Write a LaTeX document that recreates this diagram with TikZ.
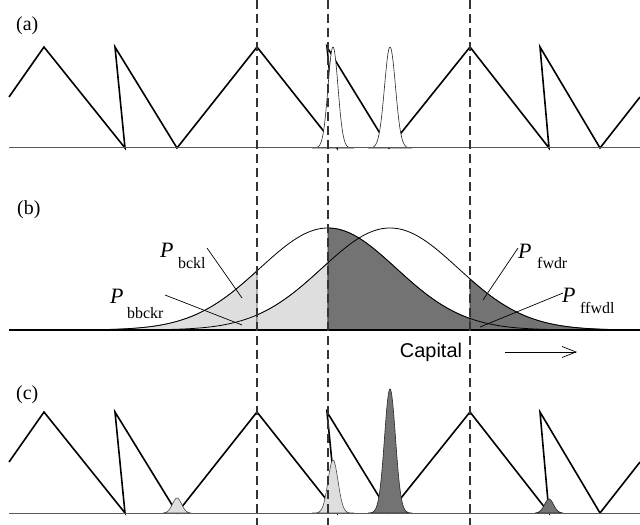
\documentclass[tikz,border=0pt]{standalone}
\usepackage{fontspec}
\setmainfont{Liberation Serif}
\newfontfamily\capfont{Liberation Sans}
\usetikzlibrary{arrows.meta}
\begin{document}
\begin{tikzpicture}[x=1bp,y=-1bp,
  tri/.style={line width=1.6bp, line join=miter, black},
  thinaxis/.style={line width=1bp, black!65},
  thickaxis/.style={line width=1.6bp, black},
  curve/.style={line width=0.8bp, black},
  dashline/.style={line width=1.5bp, black!80, dash pattern=on 9bp off 5bp},
  lightfill/.style={fill=black!13, draw=black!70, line width=0.6bp},
  darkfill/.style={fill=black!55, draw=black!85, line width=0.6bp},
  whitepeak/.style={fill=white, draw=black!85, line width=0.6bp},
  ptr/.style={line width=0.7bp, black},
  lab/.style={inner sep=0pt, anchor=base west, font=\fontsize{20}{20}\selectfont},
  pbig/.style={inner sep=0pt, anchor=base west, font=\fontsize{22}{22}\selectfont\itshape},
  psub/.style={inner sep=0pt, anchor=base west, font=\fontsize{16}{16}\selectfont},
  saw/.pic={\draw[tri] (9,97) -- (44,47) -- (125,148) -- (115,47) -- (177,148) -- (257,47) -- (337,148) -- (327,47) -- (389,148) -- (470,47) -- (549,148) -- (540,47) -- (600,148) -- (640,97);}
]
\useasboundingbox (0,0) rectangle (640,525);
\fill[white] (0,0) rectangle (640,525);

% ---------- panel (a)
\pic at (0,0) {saw};
\path[whitepeak] plot[domain=312:354, samples=80] (\x,{148-101*exp(-0.5*((\x-333)/5)^2)}) -- cycle;
\path[whitepeak] plot[domain=368:412, samples=80] (\x,{148-101*exp(-0.5*((\x-390)/5.5)^2)}) -- cycle;
\draw[thinaxis] (9,148) -- (640,148);
\node[lab] (la) at (16,31) {(a)};

% ---------- panel (b)
\path[lightfill] (83,330) -- plot[domain=83:257, samples=80] (\x,{330-102*exp(-0.5*((\x-328)/68)^2)}) -- (257,330) -- cycle;
\path[lightfill] (257,330) -- plot[domain=257:328, samples=50] (\x,{330-102*exp(-0.5*((\x-390)/68)^2)}) -- (328,330) -- cycle;
\path[darkfill] (328,330) -- plot[domain=328:470, samples=80] (\x,{330-102*exp(-0.5*((\x-328)/68)^2)}) -- (470,330) -- cycle;
\path[darkfill] (470,330) -- plot[domain=470:635, samples=80] (\x,{330-102*exp(-0.5*((\x-390)/68)^2)}) -- (635,330) -- cycle;
\draw[curve] plot[domain=83:573, samples=160] (\x,{330-102*exp(-0.5*((\x-328)/68)^2)});
\draw[curve] plot[domain=145:635, samples=160] (\x,{330-102*exp(-0.5*((\x-390)/68)^2)});
\draw[thickaxis] (9,330) -- (640,330);
\node[lab] (lb) at (17,215) {(b)};

\node[pbig] (pbckl) at (160,257) {P};
\node[psub] (sbckl) at (178,268) {bckl};
\node[pbig] (pbbckr) at (110,303) {P};
\node[psub] (sbbckr) at (127,318) {bbckr};
\node[pbig] (pfwdr) at (518,258) {P};
\node[psub] (sfwdr) at (537,268) {fwdr};
\node[pbig] (pffwdl) at (562,302) {P};
\node[psub] (sffwdl) at (580,313) {ffwdl};

\coordinate (bcklA) at (207,248);  \coordinate (bcklB) at (242,298);
\coordinate (bbckrA) at (165,295); \coordinate (bbckrB) at (242,325);
\coordinate (fwdrA) at (518,248);  \coordinate (fwdrB) at (483,300);
\coordinate (ffwdlA) at (563,293); \coordinate (ffwdlB) at (480,327);
\draw[ptr] (bcklA) -- (bcklB);
\draw[ptr] (bbckrA) -- (bbckrB);
\draw[ptr] (fwdrA) -- (fwdrB);
\draw[ptr] (ffwdlA) -- (ffwdlB);

\node[font=\capfont\fontsize{20}{20}\selectfont, inner sep=0pt] (cap) at (431,352) {Capital};
\coordinate (arrS) at (505,352);
\coordinate (arrE) at (577,352);
\draw[line width=0.7bp, -{Straight Barb[length=14bp,width=11bp,line width=0.7bp]}] (arrS) -- (arrE);

% ---------- panel (c)
\pic at (0,365) {saw};
\path[lightfill] plot[domain=163:191, samples=60] (\x,{513-15*exp(-0.5*((\x-177)/4.5)^2)}) -- cycle;
\path[lightfill] plot[domain=312:354, samples=80] (\x,{513-53*exp(-0.5*((\x-333)/5)^2)}) -- cycle;
\path[darkfill] plot[domain=368:412, samples=80] (\x,{513-124*exp(-0.5*((\x-390)/5.5)^2)}) -- cycle;
\path[darkfill] plot[domain=535:563, samples=60] (\x,{513-14*exp(-0.5*((\x-549)/4.5)^2)}) -- cycle;
\draw[thinaxis] (9,513) -- (640,513);
\node[lab] (lc) at (16,399) {(c)};

% ---------- dashed separators
\coordinate (d1t) at (257,0); \coordinate (d1b) at (257,525);
\coordinate (d2t) at (328,0); \coordinate (d2b) at (328,525);
\coordinate (d3t) at (470,0); \coordinate (d3b) at (470,525);
\draw[dashline] (d1t) -- (d1b);
\draw[dashline] (d2t) -- (d2b);
\draw[dashline] (d3t) -- (d3b);
\end{tikzpicture}
\end{document}
